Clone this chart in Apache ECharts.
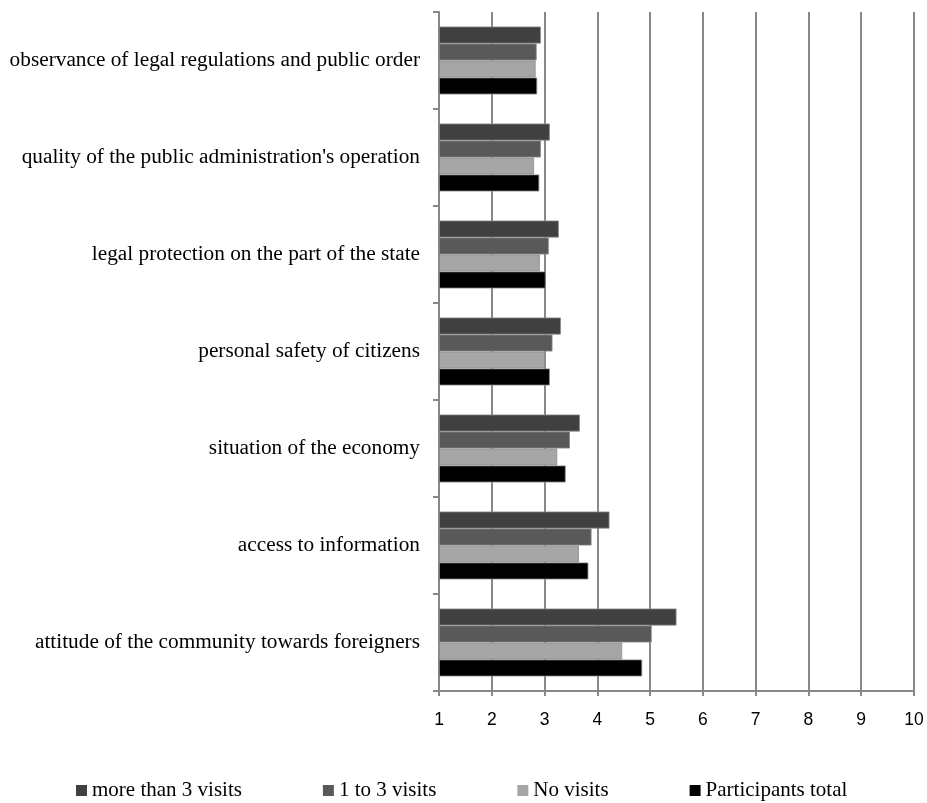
<!DOCTYPE html>
<html>
<head>
<meta charset="utf-8">
<script src="https://cdn.jsdelivr.net/npm/echarts@6/dist/echarts.min.js"></script>
<style>
  html, body { margin: 0; padding: 0; background: #fff; }
  #chart { width: 927px; height: 803px; }
</style>
</head>
<body>
<div id="chart"></div>
<script>
// categories bottom -> top (category axis grows upward)
var categories = [
  'attitude of the community towards foreigners',
  'access to information',
  'situation of the economy',
  'personal safety of citizens',
  'legal protection on the part of the state',
  "quality of the public administration's operation",
  'observance of legal regulations and public order'
]
var seriesNames = ['more than 3 visits', '1 to 3 visits', 'No visits', 'Participants total']
var moreThan3 = [5.50, 4.23, 3.67, 3.31, 3.27, 3.10, 2.93]
var oneTo3 = [5.03, 3.89, 3.48, 3.15, 3.08, 2.93, 2.85]
var noVisits = [4.47, 3.65, 3.24, 3.01, 2.91, 2.80, 2.83]
var total = [4.85, 3.83, 3.40, 3.10, 3.02, 2.90, 2.86]
var colors = ['#404040', '#595959', '#a6a6a6', '#000000']

var values = [moreThan3, oneTo3, noVisits, total]
var gridColor = '#888888'

var chart = echarts.init(document.getElementById('chart'))
chart.setOption({
  animation: false,
  grid: {
    left: 439,
    right: 13,
    top: 12,
    bottom: 112
  },
  legend: {
    data: seriesNames,
    left: 76,
    top: 780,
    padding: 0,
    icon: 'rect',
    itemWidth: 11,
    itemHeight: 11,
    itemGap: 81,
    itemStyle: { borderWidth: 0 },
    textStyle: {
      fontFamily: 'Liberation Serif',
      fontSize: 21,
      color: '#000'
    }
  },
  xAxis: {
    type: 'value',
    min: 1,
    max: 10,
    interval: 1,
    startValue: 1,
    axisLine: { show: true, lineStyle: { color: gridColor, width: 2 } },
    axisTick: { show: true, length: 5, lineStyle: { color: gridColor, width: 2 } },
    splitLine: { show: true, lineStyle: { color: gridColor, width: 2 } },
    axisLabel: {
      margin: 20,
      fontFamily: 'Liberation Sans',
      fontSize: 17.5,
      color: '#000'
    }
  },
  yAxis: {
    type: 'category',
    data: categories,
    axisLine: { show: true, lineStyle: { color: gridColor, width: 2 } },
    axisTick: { show: true, length: 6, lineStyle: { color: gridColor, width: 2 } },
    splitLine: { show: false },
    axisLabel: {
      margin: 19,
      fontFamily: 'Liberation Serif',
      fontSize: 21.3,
      color: '#000'
    }
  },
  series: seriesNames.map(function (name, i) {
    return {
      name: name,
      type: 'bar',
      data: values[i],
      barGap: '0%',
      barCategoryGap: '30%',
      clip: true,
      itemStyle: {
        color: colors[i],
        borderColor: '#8a8a8a',
        borderWidth: 0.8
      }
    }
  })
})
</script>
</body>
</html>
